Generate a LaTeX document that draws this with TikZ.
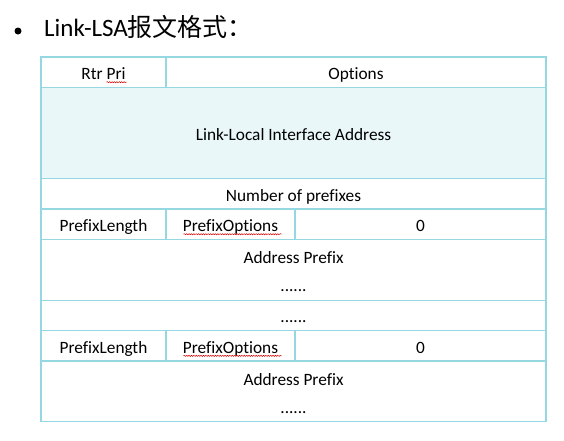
\documentclass[tikz,border=0pt]{standalone}
\usepackage{fontspec}
\setmainfont[Ligatures={NoCommon}]{Carlito}
\newfontfamily\cjk{Noto Sans CJK SC}
\usepackage{xcolor}
\usetikzlibrary{positioning,decorations.pathmorphing}
\definecolor{tblline}{RGB}{150,216,226}
\definecolor{tblfill}{RGB}{233,247,249}

\begin{document}
\begin{tikzpicture}[x=1pt,y=-1pt,
                    cell/.style={draw=tblline,line width=1.2pt,anchor=north west,inner sep=0pt,outer sep=0pt,
                                 minimum height=30.4pt,align=center,font=\fontsize{17.3}{28}\selectfont,
                                 text height=14.4pt,text depth=0pt},
                    twoline/.style={minimum height=60.8pt,text height=44pt,text depth=0pt},
                    spell/.style={draw=red!85!black,line width=0.5pt,decorate,
                                  decoration={snake,amplitude=0.6pt,segment length=2.4pt}}]

  \useasboundingbox (0,0) rectangle (564,440);

  % title line
  \node[circle,fill,inner sep=0pt,minimum size=7pt] (dot) at (18,31) {};
  \node[anchor=base west,inner sep=0pt,font=\fontsize{25}{30}\selectfont] (title) at (44,36) {Link-LSA{\cjk 报文格式：}};

  % header rows
  \node[cell,minimum width=125pt] (rtr) at (41,57) {Rtr Pri};
  \node[cell,minimum width=380pt] (opt) at (rtr.north east) {Options};
  \node[cell,minimum width=505pt,minimum height=91.2pt,fill=tblfill] (lla) at (rtr.south west) {Link-Local Interface Address};
  \node[cell,minimum width=505pt] (num) at (lla.south west) {Number of prefixes};

  % first prefix
  \node[cell,minimum width=125pt] (len1) at (num.south west) {PrefixLength};
  \node[cell,minimum width=129pt] (popt1) at (len1.north east) {PrefixOptions};
  \node[cell,minimum width=251pt] (zero1) at (popt1.north east) {0};
  \node[cell,twoline,minimum width=505pt] (addr1) at (len1.south west) {Address Prefix\\......};

  \node[cell,minimum width=505pt] (gap) at (addr1.south west) {......};

  % last prefix
  \node[cell,minimum width=125pt] (len2) at (gap.south west) {PrefixLength};
  \node[cell,minimum width=129pt] (popt2) at (len2.north east) {PrefixOptions};
  \node[cell,minimum width=251pt] (zero2) at (popt2.north east) {0};
  \node[cell,twoline,minimum width=505pt] (addr2) at (len2.south west) {Address Prefix\\......};

  % spell check marks
  \draw[spell] ([shift={(3,10)}]rtr.center) -- ([shift={(23,10)}]rtr.center);
  \draw[spell] ([shift={(-47,10)}]popt1.center) -- ([shift={(51,10)}]popt1.center);
  \draw[spell] ([shift={(-47,10)}]popt2.center) -- ([shift={(51,10)}]popt2.center);
\end{tikzpicture}
\end{document}
